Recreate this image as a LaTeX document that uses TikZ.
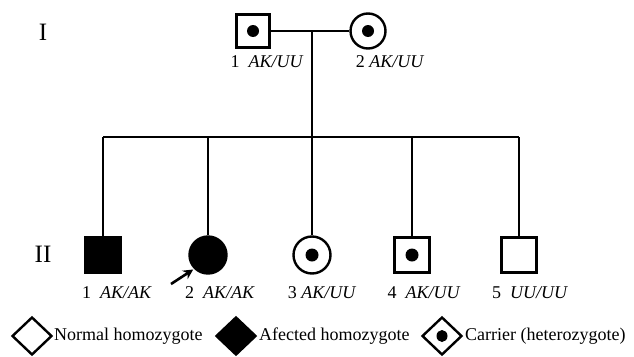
\documentclass[tikz,border=0pt]{standalone}
\usepackage{fontspec}
\setmainfont{Liberation Serif}
\usetikzlibrary{shapes.geometric,arrows.meta}
\begin{document}
\begin{tikzpicture}[x=1pt,y=-1pt,
  male/.style={draw,rectangle,line width=2.4pt,minimum size=33pt,inner sep=0pt},
  female/.style={draw,circle,line width=2.4pt,minimum size=35pt,inner sep=0pt},
  aff/.style={fill=black},
  dotc/.style={circle,fill=black,minimum size=12pt,inner sep=0pt},
  lab/.style={font=\fontsize{18}{20}\selectfont,inner sep=0pt},
  gen/.style={font=\fontsize{25}{28}\selectfont,inner sep=0pt},
  link/.style={line width=2pt},
  leg/.style={draw,diamond,line width=2.4pt,minimum width=40pt,minimum height=38pt,inner sep=0pt},
  legt/.style={font=\fontsize{18}{20}\selectfont,inner sep=0pt,anchor=west}]
\useasboundingbox (0,0) rectangle (634,356);
% generation labels
\node[gen] (gI) at (43,32) {I};
\node[gen] (gII) at (43,254) {II};
% generation I
\node[male] (s1) at (253,31) {};
\node[dotc] (d1) at (s1.center) {};
\node[female] (c1) at (368,31) {};
\node[dotc] (d2) at (c1.center) {};
\node[lab] (l1) at (267,62) {1~\ \textit{AK/UU}};
\node[lab] (l2) at (390,62) {2 \textit{AK/UU}};
\coordinate (m) at (312,31);
\coordinate (sib) at (312,137);
\coordinate (sL) at (103,137);
\coordinate (sR) at (519,137);
\draw[link] (s1.east) -- (c1.west);
\draw[link] (m) -- (sib);
\draw[link] (sL) -- (sR);
% generation II
\node[male,aff,minimum size=36pt] (k1) at (103,255) {};
\node[female,aff,minimum size=37pt] (k2) at (208,255) {};
\node[female,minimum size=37pt] (k3) at (312,255) {};
\node[dotc,minimum size=13pt] (d3) at (k3.center) {};
\node[male,minimum size=35pt] (k4) at (412,255) {};
\node[dotc,minimum size=13pt] (d4) at (k4.center) {};
\node[male,minimum size=35pt] (k5) at (519,255) {};
\foreach \k in {k1,k2,k3,k4,k5}
  \draw[link] (\k |- sib) -- (\k.north);
\node[lab] (m1) at (117,293) {1~\ \textit{AK/AK}};
\node[lab] (m2) at (220,293) {2~\ \textit{AK/AK}};
\node[lab] (m3) at (322,293) {3 \textit{AK/UU}};
\node[lab] (m4) at (424,293) {4~\ \textit{AK/UU}};
\node[lab] (m5) at (530,293) {5~\ \textit{UU/UU}};
\coordinate (atail) at (171,284);
\draw[line width=2.6pt,-{Stealth[length=10pt,width=10pt]},shorten >=1pt] (atail) -- (k2.south west);
% legend
\node[leg] (e1) at (32,336) {};
\node[legt] (t1) at (54,336) {Normal homozygote};
\node[leg,fill=black] (e2) at (236,336) {};
\node[legt] (t2) at (259,336) {Afected homozygote};
\node[leg] (e3) at (442,336) {};
\node[dotc,minimum width=11pt,minimum height=12pt,ellipse] (d5) at (e3.center) {};
\node[legt] (t3) at (465,336) {Carrier (heterozygote)};
\end{tikzpicture}
\end{document}
